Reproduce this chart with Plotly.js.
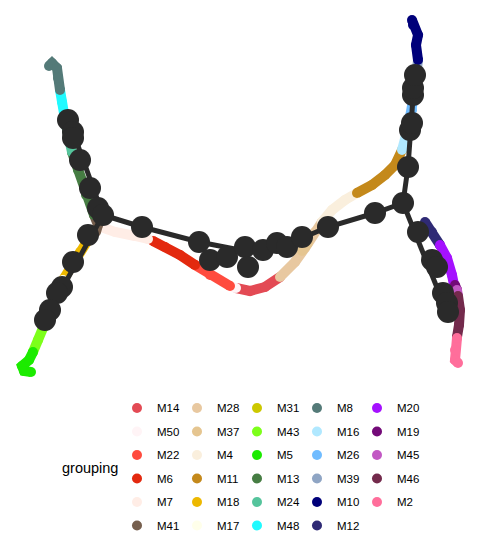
<!DOCTYPE html>
<html>
<head>
<meta charset="utf-8">
<script src="https://cdn.plot.ly/plotly-3.0.1.min.js"></script>
<style>
  html, body { margin: 0; padding: 0; background: #fff; }
  #traj { width: 481px; height: 544px; }
</style>
</head>
<body>
<div id="traj"></div>
<script>
/***** groups, legend order as in the reference (column by column) *****/
var groupNames = ['M14', 'M50', 'M22', 'M6', 'M7', 'M41',
                  'M28', 'M37', 'M4', 'M11', 'M18', 'M17',
                  'M31', 'M43', 'M5', 'M13', 'M24', 'M48',
                  'M8', 'M16', 'M26', 'M39', 'M10', 'M12',
                  'M20', 'M19', 'M45', 'M46', 'M2'];
var groupColors = ['#E34A54', '#FFF4F6', '#FF4B3E', '#E3290F', '#FFEDE6', '#765F4E',
                   '#E8C8A0', '#E5C590', '#FAEFDD', '#C4891B', '#EDB800', '#FFFFEA',
                   '#CCC800', '#7DFF1A', '#1CEB00', '#467D43', '#55C49C', '#20FAFF',
                   '#547A78', '#B0E8FF', '#70BCFF', '#8FA5C4', '#00007A', '#2F2A75',
                   '#A511FF', '#730A78', '#C258C4', '#732A4C', '#FF6E9B'];

/***** cells per group, [dim1, dim2] *****/
var M8  = [[-19.1, 13.4], [-18.8, 13.7], [-18.3, 13.2], [-18.2, 12.2], [-18.0, 11.0]];
var M48 = [[-18.0, 11.0], [-17.8, 9.8], [-17.6, 8.5], [-17.4, 7.5]];
var M24 = [[-17.4, 7.5], [-17.1, 6.0], [-16.8, 4.8]];
var M13 = [[-16.8, 4.8], [-16.2, 3.0], [-15.4, 0.5], [-14.6, -1.5]];
var M41 = [[-14.6, -1.5], [-14.2, -2.5], [-14.4, -3.2]];
var M18 = [[-15.2, -4.0], [-16.0, -5.2], [-16.8, -6.5], [-17.7, -8.0], [-18.5, -9.7]];
var M17 = [[-17.7, -8.0], [-18.0, -8.6]];
var M31 = [[-18.5, -9.7], [-19.2, -11.5], [-19.7, -12.8]];
var M43 = [[-19.7, -12.8], [-20.2, -14.0], [-20.7, -15.2]];
var M5  = [[-20.7, -15.2], [-21.1, -16.0], [-21.8, -16.6], [-21.6, -17.1], [-20.9, -17.2]];
var M7  = [[-14.2, -2.6], [-12.5, -3.2], [-10.5, -3.6], [-9.2, -3.9]];
var M50 = [[-9.2, -3.9], [-8.8, -4.0], [null, null], [-0.8, -8.7], [-0.4, -8.8]];
var M6  = [[-8.7, -4.1], [-7.5, -4.7], [-6.0, -5.5], [-4.5, -6.5]];
var M22 = [[-4.5, -6.5], [-3.0, -7.5], [-1.0, -8.6]];
var M14 = [[-0.4, -8.8], [1.0, -9.1], [2.5, -8.7], [4.0, -7.7]];
var M28 = [[4.0, -7.7], [5.5, -6.2], [6.5, -4.8], [7.5, -3.2], [8.2, -2.2]];
var M37 = [[6.2, -5.1], [6.8, -4.3]];
var M4  = [[8.2, -2.2], [9.2, -1.0], [10.5, 0.0], [11.7, 0.7]];
var M11 = [[11.7, 0.7], [13.2, 1.5], [14.5, 2.5], [15.5, 3.5], [16.2, 5.0]];
var M16 = [[16.2, 5.0], [16.5, 6.0], [16.8, 7.2]];
var M26 = [[16.8, 7.2], [17.2, 9.0], [17.4, 10.5]];
var M39 = [[17.4, 10.5], [17.6, 12.5], [17.8, 14.0]];
var M10 = [[17.8, 14.0], [17.6, 15.5], [17.8, 16.5], [17.3, 17.5], [17.2, 18.0]];
var M12 = [[18.5, -2.2], [19.2, -3.2], [20.0, -4.5]];
var M20 = [[20.0, -4.5], [20.7, -5.8], [21.2, -7.5], [21.4, -8.5]];
var M19 = [[21.5, -8.5], [21.7, -9.0]];
var M45 = [[21.7, -9.0], [21.8, -9.6]];
var M46 = [[21.8, -9.6], [22.0, -11.0], [21.9, -12.5], [21.7, -13.7]];
var M2  = [[21.7, -13.8], [21.5, -15.0], [21.5, -16.0], [21.8, -16.3]];

var cellPaths = {M14: M14, M50: M50, M22: M22, M6: M6, M7: M7, M41: M41,
                 M28: M28, M37: M37, M4: M4, M11: M11, M18: M18, M17: M17,
                 M31: M31, M43: M43, M5: M5, M13: M13, M24: M24, M48: M48,
                 M8: M8, M16: M16, M26: M26, M39: M39, M10: M10, M12: M12,
                 M20: M20, M19: M19, M45: M45, M46: M46, M2: M2};

/***** trajectory: edges and milestones *****/
var edgeX = [-17.2, -13.7, -19.7, null,
             -13.7, -9.8, -4.1, 0.0, 5.0, 8.8, 13.5, 16.3, null,
             16.3, 16.8, 17.5, null,
             16.3, 20.8];
var edgeY = [8.2, -1.5, -12.3, null,
             -1.5, -2.7, -4.2, -5.0, -4.3, -2.7, -1.3, -0.3, null,
             -0.3, 3.3, 13.0, null,
             -0.3, -11.5];
var nodeX = [-17.2, -16.7, -16.7, -16.0, -15.0, -14.2, -13.7,
             -15.2, -16.7, -17.8, -18.3, -19.0, -19.5,
             -9.8, -4.1, -3.0, -1.3, 0.5, 0.8, 2.3, 3.7, 4.7, 6.2, 8.8, 13.5,
             16.3, 16.8,
             17.0, 17.2, 17.3, 17.3, 17.5,
             17.8, 19.2, 19.7, 20.3, 20.7, 20.8];
var nodeY = [8.0, 6.8, 6.2, 4.0, 1.2, -0.8, -1.5,
             -3.5, -6.2, -8.7, -9.3, -11.0, -12.0,
             -2.7, -4.2, -6.0, -5.7, -4.7, -6.7, -5.0, -4.3, -4.7, -3.7, -2.7, -1.3,
             -0.3, 3.3,
             7.0, 7.7, 10.5, 11.2, 12.5,
             -3.2, -6.0, -6.7, -9.3, -10.3, -11.2];

var data = [];

// cells, drawn as thick coloured strokes along the path
groupNames.forEach(function (g, i) {
  var pts = cellPaths[g];
  data.push({
    x: pts.map(function (p) { return p[0]; }),
    y: pts.map(function (p) { return p[1]; }),
    type: 'scatter',
    mode: 'lines+markers',
    name: g,
    legendgroup: g,
    showlegend: false,
    hoverinfo: 'skip',
    line: {color: groupColors[i], width: 10},
    marker: {color: groupColors[i], size: 10}
  });
});

// trajectory edges
data.push({
  x: edgeX,
  y: edgeY,
  type: 'scatter',
  mode: 'lines',
  showlegend: false,
  hoverinfo: 'skip',
  line: {color: '#2A2A2A', width: 5}
});

// milestones
data.push({
  x: nodeX,
  y: nodeY,
  type: 'scatter',
  mode: 'markers',
  showlegend: false,
  hoverinfo: 'skip',
  marker: {color: '#2A2A2A', size: 22}
});

// legend: one vertical legend per column of 6 entries
var nRows = 6;
var legendIds = ['legend', 'legend2', 'legend3', 'legend4', 'legend5'];
groupNames.forEach(function (g, k) {
  data.push({
    x: [null],
    y: [null],
    type: 'scatter',
    mode: 'markers',
    name: g,
    legendgroup: g,
    legend: legendIds[Math.floor(k / nRows)],
    marker: {color: groupColors[k], size: 10}
  });
});

var layout = {
  width: 481,
  height: 544,
  margin: {l: 0, r: 0, t: 0, b: 159, autoexpand: false},
  paper_bgcolor: '#fff',
  plot_bgcolor: '#fff',
  showlegend: true,
  font: {family: 'Liberation Sans, Arial, sans-serif', color: '#000'},
  xaxis: {range: [-24, 24.1], visible: false, fixedrange: true},
  yaxis: {range: [-18.5, 20], visible: false, fixedrange: true},
  annotations: [{
    text: 'grouping',
    xref: 'paper',
    yref: 'paper',
    x: 0.125,
    y: -0.2156,
    xanchor: 'left',
    yanchor: 'middle',
    showarrow: false,
    font: {size: 14.5}
  }]
};

legendIds.forEach(function (id, c) {
  layout[id] = {
    orientation: 'v',
    x: (117 + 60 * c) / 481,
    xanchor: 'left',
    y: -0.022,
    yanchor: 'top',
    tracegroupgap: 4.5,
    font: {size: 11.5},
    bgcolor: 'rgba(0,0,0,0)'
  };
});

var config = {staticPlot: true, displayModeBar: false};
Plotly.newPlot('traj', data, layout, config);
</script>
</body>
</html>
